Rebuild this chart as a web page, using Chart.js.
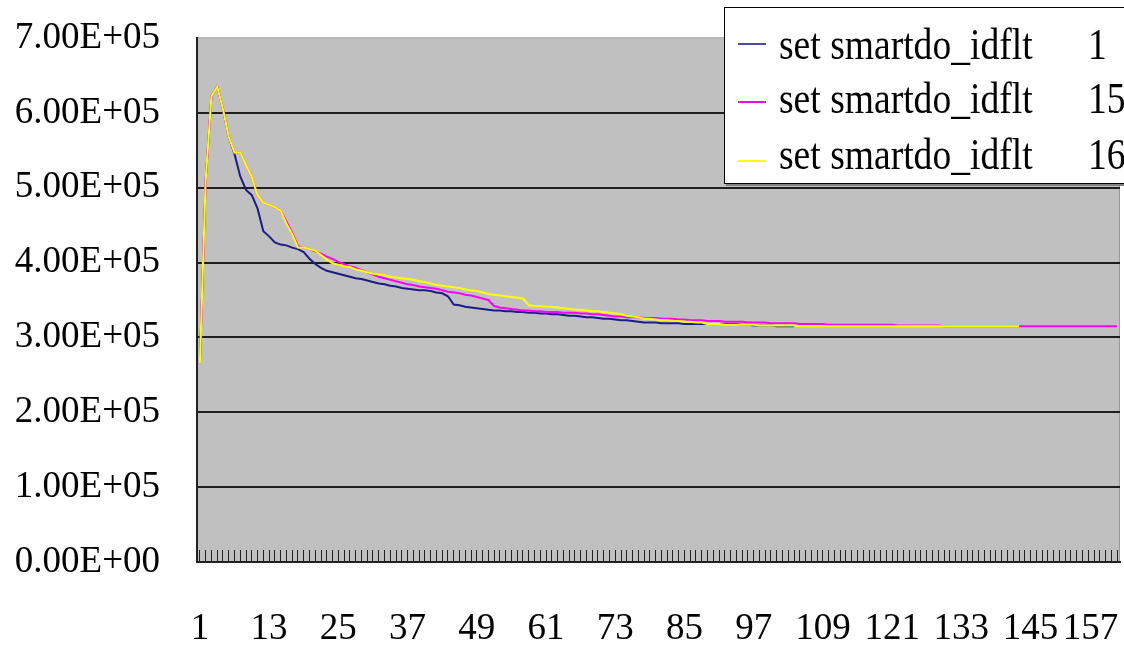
<!DOCTYPE html>
<html>
<head>
<meta charset="utf-8">
<script src="https://cdn.jsdelivr.net/npm/chart.js@4/dist/chart.umd.min.js"></script>
<style>
  html, body { margin: 0; padding: 0; background: #fff; overflow: hidden; }
  #wrap { position: relative; width: 1124px; height: 649px; }
  #legendBox {
    position: absolute; left: 724px; top: 7px; width: 420px; height: 175px;
    background: #fff; border: 1px solid #000; box-shadow: 2px 2px 0 #808080;
  }
  .lg-line { position: absolute; left: 13px; width: 28px; height: 2px; }
  .lg-text, .lg-num {
    position: absolute; font-family: 'Liberation Serif', 'Times New Roman', serif;
    font-size: 45px; line-height: 45px; color: #000; white-space: nowrap;
    transform: scaleX(0.835); transform-origin: left center;
  }
  .lg-text { left: 54px; }
  .lg-num { left: 363px; }
</style>
</head>
<body>
<div id="wrap">
  <canvas id="lineChart" width="1124" height="649"></canvas>
  <div id="legendBox"></div>
</div>
<script>
// Chart data
const seriesNames = ['set smartdo_idflt', 'set smartdo_idflt', 'set smartdo_idflt'];
const seriesIds = ['1', '15', '16'];
const seriesColors = ['#1c1c86', '#ff00ff', '#ffff00'];

// x tick labels shown (every 12th category)
const xTickLabels = ['1', '13', '25', '37', '49', '61', '73', '85', '97', '109', '121', '133', '145', '157'];
const categoryCount = 160;

const idflt1 = [
  2.65e5, 5.10e5, 6.22e5, 6.35e5, 6.05e5, 5.68e5, 5.45e5, 5.15e5, 4.97e5, 4.90e5,
  4.72e5, 4.42e5, 4.35e5, 4.27e5, 4.24e5, 4.23e5, 4.20e5, 4.18e5, 4.14e5,
  4.05e5, 3.98e5, 3.93e5, 3.89e5, 3.87e5, 3.85e5, 3.83e5, 3.81e5, 3.79e5, 3.78e5,
  3.76e5, 3.74e5, 3.72e5, 3.71e5, 3.69e5, 3.68e5, 3.66e5, 3.65e5, 3.64e5, 3.63e5,
  3.63e5, 3.62e5, 3.60e5, 3.59e5, 3.55e5, 3.44e5, 3.43e5, 3.41e5, 3.40e5, 3.39e5,
  3.38e5, 3.37e5, 3.36e5, 3.36e5, 3.35e5, 3.35e5, 3.34e5, 3.34e5, 3.33e5, 3.33e5,
  3.32e5, 3.32e5, 3.31e5, 3.31e5, 3.30e5, 3.29e5, 3.29e5, 3.28e5, 3.27e5, 3.27e5,
  3.26e5, 3.25e5, 3.25e5, 3.24e5, 3.23e5, 3.23e5, 3.22e5, 3.21e5, 3.20e5, 3.20e5,
  3.20e5, 3.19e5, 3.19e5, 3.19e5, 3.19e5, 3.18e5, 3.18e5, 3.18e5, 3.18e5, 3.18e5,
  3.18e5, 3.18e5, 3.18e5, 3.18e5, 3.18e5, 3.17e5, 3.17e5, 3.16e5, 3.16e5, 3.16e5,
  3.16e5, 3.15e5, 3.15e5, 3.15e5, 3.15e5
];

const idflt15 = [
  2.65e5, 5.10e5, 6.22e5, 6.35e5, 6.05e5, 5.68e5, 5.47e5, 5.47e5, 5.30e5, 5.14e5,
  4.90e5, 4.80e5, 4.77e5, 4.74e5, 4.69e5, 4.55e5, 4.40e5, 4.22e5, 4.20e5,
  4.18e5, 4.15e5, 4.12e5, 4.08e5, 4.05e5, 4.01e5, 3.98e5, 3.95e5, 3.93e5, 3.90e5,
  3.87e5, 3.84e5, 3.81e5, 3.79e5, 3.77e5, 3.75e5, 3.73e5, 3.71e5, 3.70e5, 3.68e5,
  3.67e5, 3.66e5, 3.65e5, 3.63e5, 3.61e5, 3.60e5, 3.59e5, 3.57e5, 3.56e5, 3.54e5,
  3.52e5, 3.50e5, 3.42e5, 3.40e5, 3.39e5, 3.38e5, 3.37e5, 3.36e5, 3.36e5, 3.35e5,
  3.35e5, 3.34e5, 3.34e5, 3.34e5, 3.33e5, 3.33e5, 3.33e5, 3.32e5, 3.32e5, 3.31e5,
  3.31e5, 3.30e5, 3.29e5, 3.28e5, 3.28e5, 3.27e5, 3.27e5, 3.27e5, 3.26e5, 3.26e5,
  3.26e5, 3.25e5, 3.25e5, 3.25e5, 3.24e5, 3.24e5, 3.23e5, 3.23e5, 3.23e5, 3.22e5,
  3.22e5, 3.22e5, 3.21e5, 3.21e5, 3.21e5, 3.21e5, 3.20e5, 3.20e5, 3.20e5, 3.20e5,
  3.19e5, 3.19e5, 3.19e5, 3.19e5, 3.19e5, 3.18e5, 3.18e5, 3.18e5, 3.18e5, 3.18e5,
  3.17e5, 3.17e5, 3.17e5, 3.17e5, 3.17e5, 3.17e5, 3.17e5, 3.17e5, 3.17e5, 3.17e5,
  3.17e5, 3.17e5, 3.16e5, 3.16e5, 3.16e5, 3.16e5, 3.16e5, 3.16e5, 3.16e5, 3.16e5,
  3.15e5, 3.15e5, 3.15e5, 3.15e5, 3.15e5, 3.15e5, 3.15e5, 3.15e5, 3.15e5, 3.15e5,
  3.15e5, 3.15e5, 3.15e5, 3.15e5, 3.15e5, 3.15e5, 3.15e5, 3.15e5, 3.15e5, 3.15e5,
  3.15e5, 3.15e5, 3.15e5, 3.15e5, 3.15e5, 3.15e5, 3.15e5, 3.15e5, 3.15e5, 3.15e5,
  3.15e5
];

const idflt16 = [
  2.65e5, 5.10e5, 6.22e5, 6.35e5, 6.05e5, 5.68e5, 5.47e5, 5.47e5, 5.30e5, 5.14e5,
  4.90e5, 4.80e5, 4.77e5, 4.74e5, 4.69e5, 4.52e5, 4.38e5, 4.20e5, 4.20e5,
  4.18e5, 4.16e5, 4.10e5, 4.04e5, 3.99e5, 3.97e5, 3.95e5, 3.94e5, 3.91e5, 3.89e5,
  3.87e5, 3.85e5, 3.84e5, 3.83e5, 3.81e5, 3.80e5, 3.79e5, 3.78e5, 3.77e5, 3.75e5,
  3.74e5, 3.72e5, 3.70e5, 3.69e5, 3.68e5, 3.67e5, 3.66e5, 3.64e5, 3.63e5, 3.62e5,
  3.60e5, 3.58e5, 3.57e5, 3.56e5, 3.55e5, 3.54e5, 3.53e5, 3.52e5, 3.43e5, 3.42e5,
  3.42e5, 3.41e5, 3.41e5, 3.40e5, 3.39e5, 3.38e5, 3.37e5, 3.37e5, 3.36e5, 3.35e5,
  3.35e5, 3.34e5, 3.33e5, 3.32e5, 3.31e5, 3.29e5, 3.28e5, 3.27e5, 3.25e5, 3.25e5,
  3.24e5, 3.23e5, 3.23e5, 3.22e5, 3.22e5, 3.21e5, 3.21e5, 3.20e5, 3.20e5, 3.18e5,
  3.18e5, 3.18e5, 3.17e5, 3.17e5, 3.17e5, 3.17e5, 3.17e5, 3.17e5, 3.16e5, 3.16e5,
  3.16e5, 3.16e5, 3.16e5, 3.16e5, 3.16e5, 3.15e5, 3.15e5, 3.15e5, 3.15e5, 3.15e5,
  3.15e5, 3.15e5, 3.15e5, 3.15e5, 3.15e5, 3.15e5, 3.15e5, 3.15e5, 3.15e5, 3.15e5,
  3.15e5, 3.15e5, 3.15e5, 3.15e5, 3.15e5, 3.15e5, 3.15e5, 3.15e5, 3.15e5, 3.15e5,
  3.15e5, 3.15e5, 3.15e5, 3.15e5, 3.15e5, 3.15e5, 3.15e5, 3.15e5, 3.15e5, 3.15e5,
  3.15e5, 3.15e5, 3.15e5, 3.15e5
];

const seriesData = [idflt1, idflt15, idflt16];

// category labels 1..160
const categories = [];
for (let i = 1; i <= categoryCount; i++) categories.push(String(i));

// Excel style number format, e.g. 7.00E+05
function sciLabel(v) {
  if (v === 0) return '0.00E+00';
  const exp = Math.floor(Math.log10(Math.abs(v)));
  const mant = v / Math.pow(10, exp);
  const e = String(Math.abs(exp)).padStart(2, '0');
  return mant.toFixed(2) + 'E' + (exp < 0 ? '-' : '+') + e;
}

// gray plot area with a thin border
const plotArea = {
  id: 'plotArea',
  beforeDraw(chart) {
    const { ctx, chartArea: a } = chart;
    ctx.save();
    ctx.fillStyle = '#c0c0c0';
    ctx.fillRect(a.left, a.top, a.right - a.left, a.bottom - a.top);
    ctx.strokeStyle = '#9a9a9a';
    ctx.lineWidth = 1;
    ctx.strokeRect(a.left + 0.5, a.top + 0.5, a.right - a.left - 1, a.bottom - a.top - 1);
    ctx.restore();
  }
};

// keep the plot area where the original has it, labels may overflow a bit
function noLabelPadding(scale) {
  scale.paddingLeft = 0;
  scale.paddingRight = 0;
  scale.paddingTop = 0;
  scale.paddingBottom = 0;
}

const tickFont = { family: "'Liberation Serif', 'Times New Roman', serif", size: 37 };
const lastXLabel = xTickLabels[xTickLabels.length - 1];

const datasets = seriesData.map((data, i) => ({
  label: seriesNames[i] + ' ' + seriesIds[i],
  data: data,
  borderColor: seriesColors[i],
  backgroundColor: seriesColors[i],
  borderWidth: 2,
  pointRadius: 0,
  tension: 0,
  fill: false,
  order: seriesData.length - i // later series drawn on top, like Excel
}));

const config = {
  type: 'line',
  data: { labels: categories, datasets: datasets },
  options: {
    responsive: false,
    animation: false,
    layout: { padding: { top: 38, right: 4, left: 0, bottom: 0 } },
    plugins: {
      legend: { display: false },
      tooltip: { enabled: false }
    },
    scales: {
      x: {
        offset: true,
        afterFit(scale) { scale.height = 87; noLabelPadding(scale); },
        grid: { drawOnChartArea: false, drawTicks: true, tickLength: -12, color: '#222', lineWidth: 1 },
        border: { display: true, color: '#222', width: 2 },
        ticks: {
          autoSkip: false,
          maxRotation: 0,
          padding: 57,
          color: '#000',
          font: tickFont,
          callback: function (val, idx) {
            const lbl = categories[idx];
            if (!xTickLabels.includes(lbl)) return '';
            // last label is pulled in so it stays inside the picture, as Excel does
            return lbl === lastXLabel ? lbl + '\u2002' : lbl;
          }
        }
      },
      y: {
        min: 0,
        max: 7e5,
        afterFit(scale) { scale.width = 197; noLabelPadding(scale); },
        grid: {
          drawTicks: false,
          lineWidth: 2,
          color: ctx => (ctx.tick && ctx.tick.value === 7e5 ? '#b8b8b8' : '#1e1e1e')
        },
        border: { display: true, color: '#222', width: 2 },
        ticks: {
          stepSize: 1e5,
          padding: 37,
          color: '#000',
          font: tickFont,
          callback: v => sciLabel(v)
        }
      }
    }
  },
  plugins: [plotArea]
};

const lineChart = new Chart(document.getElementById('lineChart').getContext('2d'), config);

// legend box drawn as html text, overlapping the plot like the original
const legendBox = document.getElementById('legendBox');
const rowLineY = [35, 93, 152];
const rowTextTop = [14, 68, 124];
seriesNames.forEach((name, i) => {
  const line = document.createElement('div');
  line.className = 'lg-line';
  line.style.top = rowLineY[i] + 'px';
  line.style.background = seriesColors[i] === '#1c1c86' ? '#4a4aa8' : seriesColors[i];
  legendBox.appendChild(line);

  const txt = document.createElement('div');
  txt.className = 'lg-text';
  txt.style.top = rowTextTop[i] + 'px';
  txt.textContent = name;
  legendBox.appendChild(txt);

  const num = document.createElement('div');
  num.className = 'lg-num';
  num.style.top = rowTextTop[i] + 'px';
  num.textContent = seriesIds[i];
  legendBox.appendChild(num);
});
</script>
</body>
</html>
